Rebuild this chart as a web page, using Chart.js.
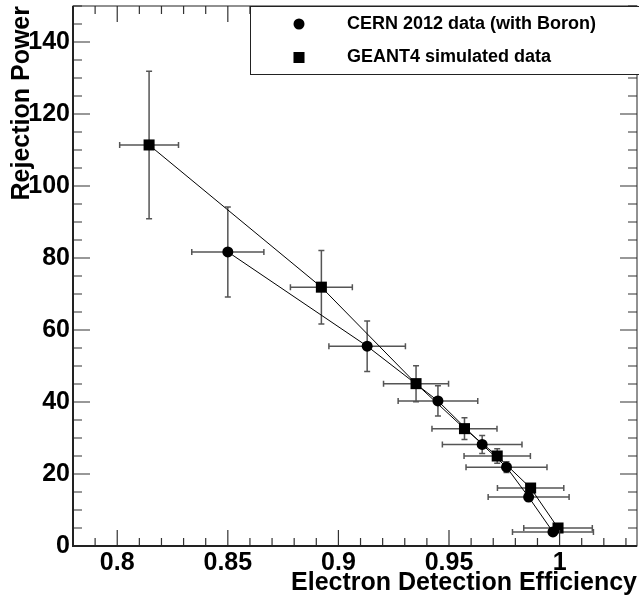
<!DOCTYPE html>
<html lang="en">
<head>
    <meta charset="UTF-8">
    <title>Rejection Power vs Electron Detection Efficiency</title>
    <script src="https://cdn.jsdelivr.net/npm/chart.js"></script>
    <style>
        html, body { margin: 0; padding: 0; background: #fff; }
        canvas { display: block; }
    </style>
</head>
<body>
    <canvas id="rejChart" width="639" height="603"></canvas>

    <script>
    // CERN 2012 data (with Boron)
    const cernX    = [0.850, 0.913, 0.945, 0.965, 0.976, 0.986, 0.997];
    const cernY    = [81.7, 55.5, 40.3, 28.2, 21.9, 13.6, 3.9];
    const cernXErr = [0.0163, 0.0173, 0.018, 0.018, 0.0183, 0.0183, 0.0183];
    const cernYErr = [12.5, 7.0, 4.2, 2.5, 1.5, 1.0, 0.5];

    // GEANT4 simulated data
    const geantX    = [0.8144, 0.8923, 0.9351, 0.957, 0.9718, 0.9869, 0.9993];
    const geantY    = [111.4, 71.9, 45.1, 32.6, 25.0, 16.1, 5.0];
    const geantXErr = [0.0133, 0.014, 0.0147, 0.0147, 0.015, 0.015, 0.0155];
    const geantYErr = [20.5, 10.2, 5.0, 3.0, 2.0, 1.0, 0.5];

    // axis ticks
    const xTicks = [0.8, 0.85, 0.9, 0.95, 1.0];
    const yTicks = [0, 20, 40, 60, 80, 100, 120, 140];
    const xMinorStep = 0.01;
    const yMinorStep = 5;

    const toPoints = (xs, ys, xe, ye) => xs.map((x, i) => ({ x: x, y: ys[i], xErr: xe[i], yErr: ye[i] }));

    const FONT = "'Liberation Sans', Arial, Helvetica, sans-serif";

    // no extra room for edge labels, keep the frame where the original has it
    const noPad = s => { s.paddingTop = 0; s.paddingBottom = 0; s.paddingLeft = 0; s.paddingRight = 0; };

    // error bars (drawn under the markers)
    const errorBars = {
        id: 'errorBars',
        beforeDatasetsDraw(chart) {
            const { ctx, scales: { x, y } } = chart;
            ctx.save();
            ctx.strokeStyle = '#555';
            ctx.lineWidth = 1.5;
            const cap = 3;
            chart.data.datasets.forEach(ds => {
                ds.data.forEach(p => {
                    const px = x.getPixelForValue(p.x), py = y.getPixelForValue(p.y);
                    const x0 = x.getPixelForValue(p.x - p.xErr), x1 = x.getPixelForValue(p.x + p.xErr);
                    const y0 = y.getPixelForValue(p.y - p.yErr), y1 = y.getPixelForValue(p.y + p.yErr);
                    ctx.beginPath();
                    ctx.moveTo(x0, py); ctx.lineTo(x1, py);
                    ctx.moveTo(x0, py - cap); ctx.lineTo(x0, py + cap);
                    ctx.moveTo(x1, py - cap); ctx.lineTo(x1, py + cap);
                    ctx.moveTo(px, y0); ctx.lineTo(px, y1);
                    ctx.moveTo(px - cap, y0); ctx.lineTo(px + cap, y0);
                    ctx.moveTo(px - cap, y1); ctx.lineTo(px + cap, y1);
                    ctx.stroke();
                });
            });
            ctx.restore();
        }
    };

    // ROOT style frame with inner ticks on all four sides
    const frameTicks = {
        id: 'frameTicks',
        afterDraw(chart) {
            const { ctx, chartArea: a, scales: { x, y } } = chart;
            ctx.save();
            ctx.strokeStyle = '#333';
            ctx.lineWidth = 1.2;
            ctx.beginPath();
            for (let v = Math.ceil(x.min / xMinorStep) * xMinorStep; v <= x.max + 1e-9; v += xMinorStep) {
                const major = xTicks.some(t => Math.abs(t - v) < 1e-6);
                const len = major ? 16 : 8;
                const px = x.getPixelForValue(v);
                ctx.moveTo(px, a.bottom); ctx.lineTo(px, a.bottom - len);
                ctx.moveTo(px, a.top); ctx.lineTo(px, a.top + len);
            }
            for (let v = 0; v <= y.max + 1e-9; v += yMinorStep) {
                const major = yTicks.includes(v);
                const len = major ? 17 : 9;
                const py = y.getPixelForValue(v);
                ctx.moveTo(a.left, py); ctx.lineTo(a.left + len, py);
                ctx.moveTo(a.right, py); ctx.lineTo(a.right - len, py);
            }
            ctx.stroke();

            ctx.strokeStyle = '#222';
            ctx.lineWidth = 1;
            ctx.strokeRect(a.left, a.top, a.right - a.left, a.bottom - a.top);
            ctx.lineWidth = 2;
            ctx.beginPath();
            ctx.moveTo(a.left, a.top); ctx.lineTo(a.left, a.bottom); ctx.lineTo(a.right, a.bottom);
            ctx.stroke();

            // legend box
            const lx = 250, ly = a.top, lw = 400, lh = 68;
            ctx.fillStyle = '#fff';
            ctx.fillRect(lx, ly, lw, lh);
            ctx.strokeStyle = '#222';
            ctx.lineWidth = 1;
            ctx.strokeRect(lx + 0.5, ly + 0.5, lw, lh);
            ctx.font = 'bold 18px ' + FONT;
            ctx.textBaseline = 'middle';
            ctx.fillStyle = '#000';
            chart.data.datasets.forEach((ds, i) => {
                const cy = ly + 18 + i * 33.5;
                Chart.helpers.drawPoint(ctx, {
                    pointStyle: ds.pointStyle, radius: ds.pointRadius, borderWidth: 0
                }, 299, cy);
                ctx.fillText(ds.label, 347, cy);
            });
            ctx.restore();
        }
    };

    new Chart(document.getElementById('rejChart'), {
        type: 'scatter',
        data: {
            datasets: [
                {
                    label: 'CERN 2012 data (with Boron)',
                    data: toPoints(cernX, cernY, cernXErr, cernYErr),
                    showLine: true,
                    borderColor: '#000',
                    borderWidth: 1,
                    backgroundColor: '#000',
                    pointBackgroundColor: '#000',
                    pointBorderWidth: 0,
                    pointStyle: 'circle',
                    pointRadius: 5.5
                },
                {
                    label: 'GEANT4 simulated data',
                    data: toPoints(geantX, geantY, geantXErr, geantYErr),
                    showLine: true,
                    borderColor: '#000',
                    borderWidth: 1,
                    backgroundColor: '#000',
                    pointBackgroundColor: '#000',
                    pointBorderWidth: 0,
                    pointStyle: 'rect',
                    pointRadius: 7.8
                }
            ]
        },
        options: {
            responsive: false,
            animation: false,
            layout: { autoPadding: false, padding: { top: 6, right: 2, left: 0, bottom: 0 } },
            plugins: { legend: { display: false }, tooltip: { enabled: false } },
            scales: {
                x: {
                    type: 'linear',
                    min: 0.78,
                    max: 1.035,
                    grid: { display: false, drawTicks: false },
                    border: { display: false },
                    afterBuildTicks: s => { s.ticks = xTicks.map(v => ({ value: v })); },
                    afterFit: s => { s.height = 57; noPad(s); },
                    ticks: {
                        color: '#000',
                        padding: 2,
                        maxRotation: 0,
                        font: { family: FONT, size: 25, weight: 'bold' },
                        callback: v => String(+v.toFixed(2))
                    },
                    title: {
                        display: true,
                        text: 'Electron Detection Efficiency',
                        align: 'end',
                        color: '#000',
                        padding: { top: 0, bottom: 5 },
                        font: { family: FONT, size: 25, weight: 'bold' }
                    }
                },
                y: {
                    type: 'linear',
                    min: 0,
                    max: 150,
                    grid: { display: false, drawTicks: false },
                    border: { display: false },
                    afterBuildTicks: s => { s.ticks = yTicks.map(v => ({ value: v })); },
                    afterFit: s => { s.width = 73; noPad(s); },
                    ticks: {
                        color: '#000',
                        padding: 3,
                        font: { family: FONT, size: 25, weight: 'bold' }
                    },
                    title: {
                        display: true,
                        text: 'Rejection Power',
                        align: 'end',
                        color: '#000',
                        padding: { top: 7, bottom: 0 },
                        font: { family: FONT, size: 25, weight: 'bold' }
                    }
                }
            }
        },
        plugins: [errorBars, frameTicks]
    });
    </script>
</body>
</html>
